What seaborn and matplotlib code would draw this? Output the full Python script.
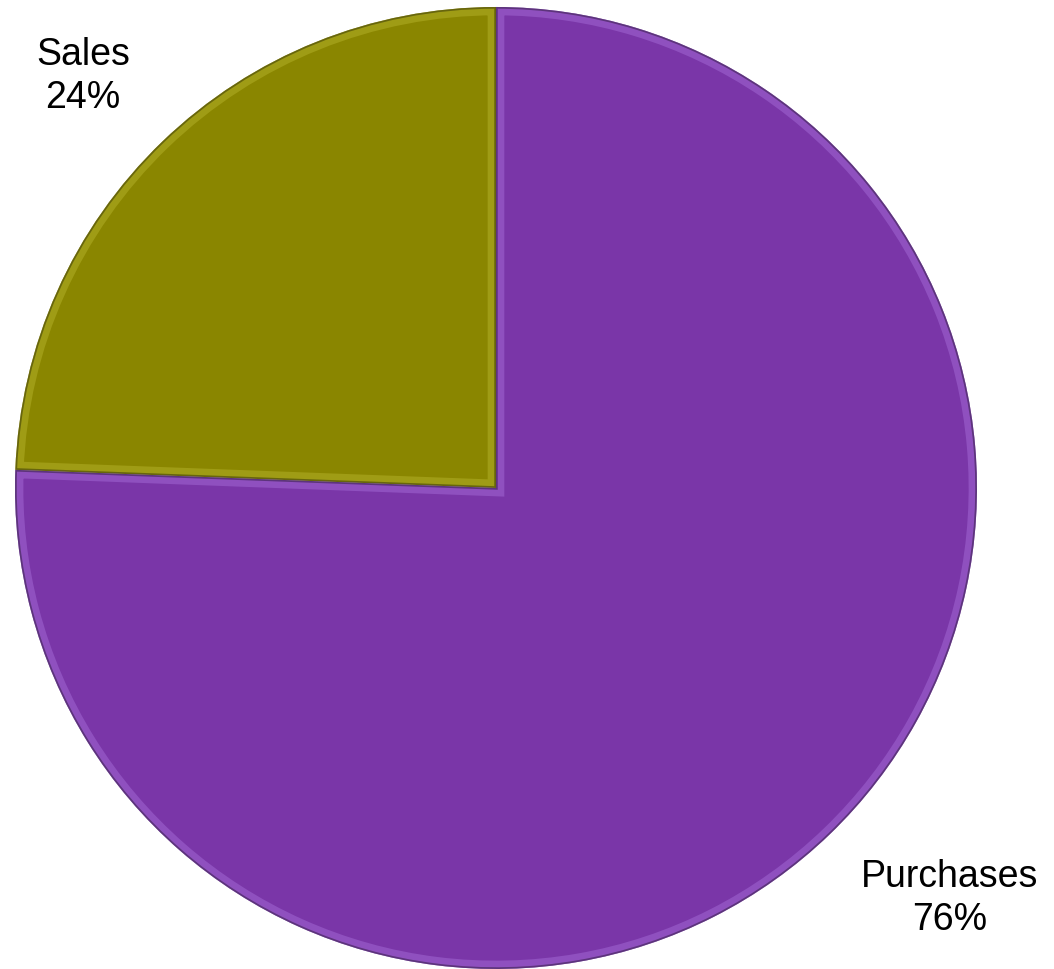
import matplotlib
matplotlib.use("Agg")
import matplotlib.pyplot as plt
import seaborn as sns
from matplotlib.patches import Wedge

categories = ["Sales", "Purchases"]
shares = [24.4, 75.6]
colors = ["#8A8600", "#7A36A8"]
highlights = ["#B5B22A", "#A46BD6"]

sns.set_theme(style="white")
plt.rcParams["font.family"] = ["Liberation Sans", "DejaVu Sans"]

fig = plt.figure(figsize=(10.54, 9.70), dpi=100)
ax = fig.add_axes([0.01423, 0.0, 0.9127, 0.9918])

wedges, _ = ax.pie(shares, colors=sns.color_palette(colors), startangle=90,
                   counterclock=True, radius=1.0,
                   wedgeprops=dict(edgecolor="none", linewidth=0))

# bevel: light inner band plus darker rim, clipped to each slice
for w, hl in zip(wedges, highlights):
    band = Wedge(w.center, w.r, w.theta1, w.theta2, facecolor="none",
                 edgecolor=hl, linewidth=12, alpha=0.5)
    band.set_clip_path(w)
    ax.add_patch(band)
    rim = Wedge(w.center, w.r, w.theta1, w.theta2, facecolor="none",
                edgecolor="black", linewidth=2.5, alpha=0.35)
    rim.set_clip_path(w)
    ax.add_patch(rim)

label_pos = [(-0.859, 0.858), (0.944, -0.851)]
for name, val, (x, y) in zip(categories, shares, label_pos):
    ax.text(x, y, f"{name}\n{round(val):d}%", ha="center", va="center",
            fontsize=27, color="black", linespacing=1.25)

ax.set_xlim(-1, 1)
ax.set_ylim(-1, 1)
ax.set_aspect("equal")
ax.axis("off")
fig.savefig("out.png", dpi=100, facecolor="white")
